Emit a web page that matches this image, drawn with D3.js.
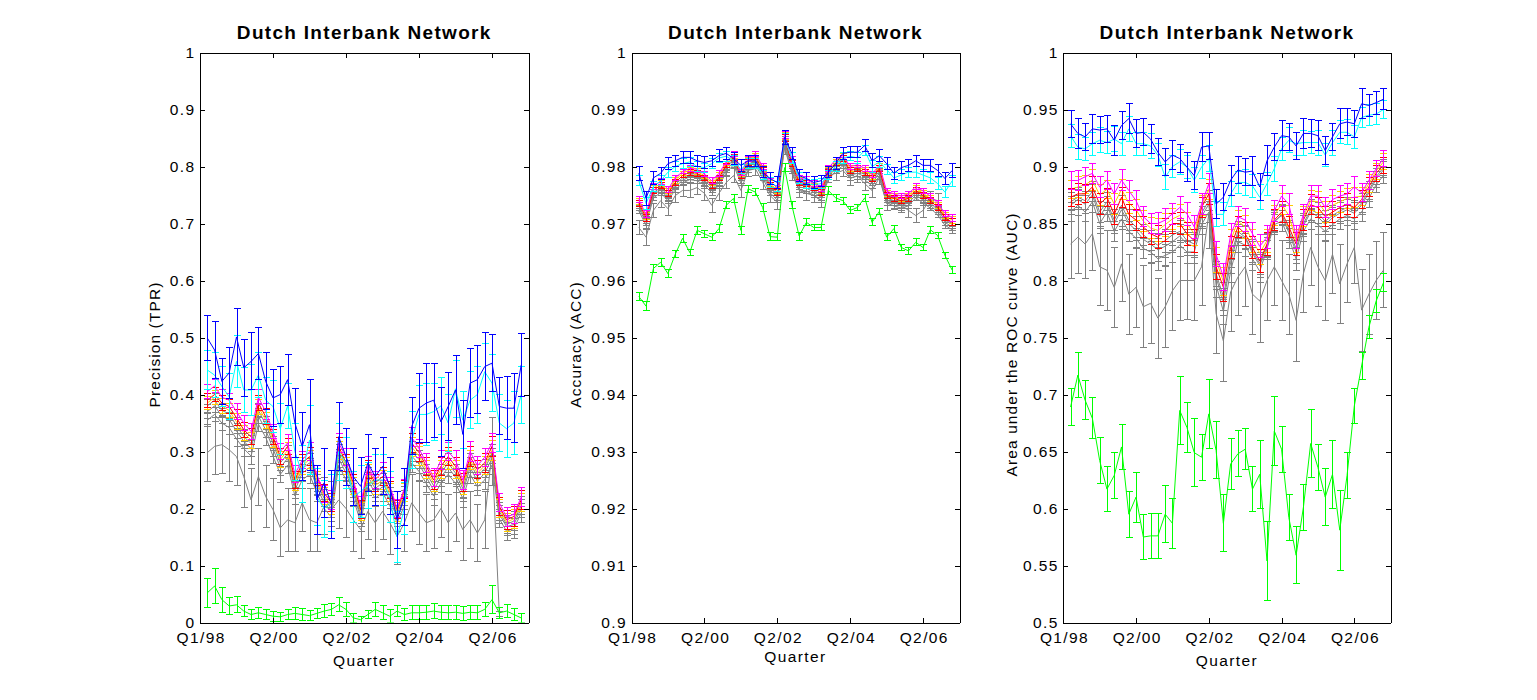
<!DOCTYPE html>
<html><head><meta charset="utf-8">
<script src="https://cdn.jsdelivr.net/npm/d3@7"></script>
<style>
body{margin:0;background:#fff}
svg{display:block}
text{font-family:Arial,"Liberation Sans",sans-serif;fill:#000}
</style></head><body>
<svg id="c" width="1537" height="700"></svg>
<script>
// ---------- shared axis data ----------
const xTickValues = [0, 10, 20, 30, 40];
const xTickLabels = ["Q1/98", "Q2/00", "Q2/02", "Q2/04", "Q2/06"];
const titleText = "Dutch Interbank Network";
const xLabelText = "Quarter";

// ---------- Panel 1 : Precision (TPR) ----------
const p1YTicks = [0,0.1,0.2,0.3,0.4,0.5,0.6,0.7,0.8,0.9,1];
const p1YTickLabels = ["0","0.1","0.2","0.3","0.4","0.5","0.6","0.7","0.8","0.9","1"];
const p1Blue = [0.499,0.478,0.423,0.438,0.501,0.447,0.458,0.472,0.423,0.394,0.400,0.426,0.350,0.309,0.347,0.215,0.245,0.207,0.326,0.291,0.256,0.239,0.280,0.256,0.274,0.239,0.180,0.221,0.344,0.376,0.385,0.390,0.352,0.379,0.408,0.330,0.420,0.426,0.449,0.455,0.379,0.376,0.376,0.452];
const p1Cyan = [0.443,0.434,0.414,0.396,0.458,0.408,0.408,0.434,0.390,0.379,0.340,0.380,0.300,0.260,0.320,0.220,0.200,0.210,0.300,0.280,0.220,0.230,0.240,0.250,0.250,0.220,0.150,0.200,0.320,0.365,0.365,0.370,0.380,0.350,0.410,0.355,0.390,0.400,0.440,0.420,0.350,0.340,0.350,0.400];
const p1Magenta = [0.405,0.415,0.395,0.390,0.370,0.350,0.335,0.395,0.370,0.335,0.300,0.315,0.260,0.285,0.300,0.260,0.225,0.215,0.315,0.290,0.250,0.205,0.275,0.250,0.265,0.240,0.200,0.235,0.325,0.305,0.280,0.255,0.285,0.300,0.285,0.250,0.300,0.275,0.290,0.315,0.210,0.185,0.190,0.220];
const p1Red = [0.390,0.400,0.385,0.379,0.359,0.338,0.326,0.385,0.361,0.326,0.291,0.309,0.250,0.280,0.291,0.256,0.227,0.210,0.309,0.280,0.245,0.198,0.268,0.245,0.256,0.233,0.198,0.233,0.315,0.298,0.274,0.250,0.274,0.291,0.274,0.245,0.291,0.268,0.280,0.309,0.204,0.180,0.186,0.215];
const p1Yellow = [0.385,0.395,0.380,0.372,0.352,0.333,0.320,0.378,0.355,0.320,0.286,0.302,0.246,0.275,0.286,0.250,0.222,0.205,0.302,0.275,0.240,0.195,0.262,0.240,0.250,0.228,0.194,0.228,0.308,0.292,0.268,0.245,0.268,0.285,0.268,0.240,0.285,0.262,0.275,0.302,0.200,0.176,0.182,0.210];
const p1Gray1 = [0.380,0.390,0.372,0.366,0.345,0.326,0.314,0.372,0.348,0.314,0.280,0.296,0.240,0.270,0.280,0.245,0.218,0.200,0.296,0.270,0.235,0.190,0.256,0.235,0.245,0.222,0.190,0.222,0.300,0.286,0.262,0.240,0.262,0.280,0.262,0.235,0.280,0.256,0.270,0.296,0.195,0.172,0.178,0.205];
const p1Gray2 = [0.370,0.380,0.362,0.356,0.336,0.318,0.305,0.362,0.338,0.305,0.272,0.288,0.232,0.262,0.272,0.238,0.210,0.194,0.288,0.262,0.228,0.184,0.248,0.228,0.238,0.215,0.184,0.215,0.292,0.278,0.255,0.232,0.255,0.272,0.255,0.228,0.272,0.248,0.262,0.288,0.190,0.168,0.172,0.200];
const p1Gray3 = [0.355,0.365,0.350,0.342,0.322,0.305,0.292,0.348,0.325,0.292,0.260,0.276,0.222,0.250,0.260,0.228,0.200,0.185,0.276,0.250,0.218,0.176,0.238,0.218,0.228,0.205,0.175,0.205,0.280,0.265,0.244,0.222,0.244,0.260,0.244,0.218,0.260,0.238,0.250,0.276,0.182,0.160,0.165,0.192];
const p1GrayLow = [0.298,0.309,0.312,0.303,0.291,0.256,0.215,0.256,0.221,0.198,0.166,0.180,0.175,0.210,0.180,0.175,0.204,0.198,0.215,0.200,0.180,0.163,0.195,0.175,0.195,0.175,0.151,0.175,0.210,0.192,0.175,0.180,0.200,0.175,0.192,0.163,0.180,0.157,0.180,0.300,0.015,null,null,null];
const p1Green = [0.052,0.064,0.040,0.029,0.031,0.020,0.014,0.017,0.014,0.011,0.010,0.014,0.016,0.014,0.012,0.016,0.020,0.023,0.031,0.023,0.008,0.005,0.014,0.023,0.017,0.011,0.020,0.014,0.017,0.017,0.018,0.020,0.018,0.017,0.018,0.016,0.018,0.017,0.023,0.040,0.017,0.020,0.014,0.008];
const p1BlueErr = [0.04,0.05,0.04,0.045,0.05,0.05,0.05,0.045,0.05,0.05,0.05,0.045,0.06,0.06,0.08,0.06,0.06,0.06,0.06,0.05,0.05,0.05,0.05,0.05,0.05,0.05,0.05,0.05,0.05,0.06,0.07,0.065,0.06,0.06,0.06,0.06,0.06,0.06,0.06,0.05,0.05,0.055,0.06,0.055];
const p1CyanErr = [0.035,0.04,0.035,0.04,0.045,0.04,0.045,0.04,0.04,0.045,0.045,0.04,0.05,0.05,0.06,0.05,0.05,0.05,0.05,0.045,0.045,0.045,0.04,0.045,0.045,0.045,0.045,0.045,0.05,0.05,0.055,0.05,0.05,0.05,0.05,0.05,0.05,0.05,0.05,0.05,0.05,0.05,0.055,0.05];
const p1ClusterErr = [0.012,0.012,0.013,0.012,0.014,0.013,0.014,0.013,0.014,0.013,0.014,0.014,0.015,0.015,0.016,0.015,0.015,0.016,0.016,0.015,0.015,0.016,0.016,0.015,0.016,0.015,0.016,0.016,0.017,0.016,0.016,0.016,0.016,0.016,0.016,0.016,0.017,0.016,0.016,0.017,0.016,0.016,0.017,0.016];
const p1LowErr = [0.05,0.05,0.05,0.055,0.05,0.055,0.055,0.05,0.055,0.055,0.05,0.055,0.05,0.05,0.055,0.05,0.05,0.05,0.05,0.05,0.055,0.05,0.05,0.05,0.05,0.055,0.05,0.05,0.05,0.055,0.05,0.05,0.05,0.05,0.05,0.055,0.05,0.05,0.05,0.06,0.005,0,0,0];
const p1GreenErr = [0.025,0.03,0.022,0.015,0.014,0.01,0.008,0.01,0.008,0.009,0.008,0.009,0.01,0.01,0.009,0.009,0.012,0.01,0.012,0.012,0.008,0.006,0.007,0.012,0.012,0.011,0.01,0.01,0.012,0.012,0.012,0.013,0.012,0.012,0.012,0.012,0.012,0.012,0.012,0.025,0.01,0.012,0.011,0.008];

// ---------- Panel 2 : Accuracy (ACC) ----------
const p2YTicks = [0.9,0.91,0.92,0.93,0.94,0.95,0.96,0.97,0.98,0.99,1];
const p2YTickLabels = ["0.9","0.91","0.92","0.93","0.94","0.95","0.96","0.97","0.98","0.99","1"];
const p2Blue = [0.9788,0.9744,0.978,0.9788,0.9805,0.981,0.9816,0.9816,0.981,0.9807,0.981,0.9819,0.9823,0.9814,0.9802,0.981,0.981,0.979,0.9779,0.9772,0.9851,0.9823,0.9784,0.9779,0.9772,0.9775,0.979,0.9805,0.9823,0.9825,0.9825,0.9837,0.981,0.9819,0.9805,0.9788,0.9798,0.9802,0.981,0.9802,0.9802,0.9793,0.9779,0.9793];
const p2Cyan = [0.9775,0.9735,0.9765,0.9775,0.979,0.980,0.9805,0.9808,0.980,0.9798,0.9805,0.9815,0.9818,0.981,0.9795,0.9805,0.9805,0.9785,0.9772,0.9765,0.9848,0.9815,0.978,0.977,0.9768,0.977,0.9785,0.980,0.9815,0.9818,0.9815,0.9828,0.980,0.9808,0.9795,0.978,0.9785,0.979,0.979,0.9785,0.978,0.977,0.9755,0.9775];
const p2Magenta = [0.9742,0.9716,0.9765,0.9774,0.976,0.978,0.9791,0.9797,0.9795,0.9787,0.9775,0.9788,0.9808,0.9822,0.979,0.9813,0.9822,0.98,0.9774,0.9762,0.9856,0.9812,0.978,0.9777,0.977,0.9762,0.9797,0.9812,0.982,0.98,0.9803,0.9797,0.9786,0.9803,0.9757,0.9752,0.9748,0.9752,0.9765,0.9757,0.9748,0.9736,0.9718,0.971];
const p2Red = [0.9735,0.971,0.9758,0.9767,0.9753,0.9772,0.9784,0.979,0.9788,0.978,0.9767,0.978,0.9802,0.9816,0.9784,0.9807,0.9816,0.9793,0.9767,0.9754,0.985,0.9805,0.9772,0.977,0.9763,0.9754,0.979,0.9805,0.9814,0.9793,0.9796,0.979,0.9779,0.9796,0.9749,0.9744,0.974,0.9744,0.9758,0.9749,0.974,0.9728,0.971,0.9702];
const p2Yellow = [0.9738,0.9713,0.9762,0.977,0.9757,0.9776,0.9788,0.9794,0.9791,0.9784,0.9771,0.9784,0.9805,0.9819,0.9787,0.981,0.9819,0.9797,0.977,0.9758,0.9853,0.9808,0.9776,0.9773,0.9766,0.9758,0.9794,0.9808,0.9817,0.9797,0.98,0.9794,0.9782,0.98,0.9753,0.9748,0.9744,0.9748,0.9762,0.9753,0.9744,0.9732,0.9714,0.9706];
const p2Gray1 = [0.9731,0.9706,0.9754,0.9763,0.9749,0.9768,0.978,0.9786,0.9784,0.9776,0.9763,0.9776,0.9798,0.9812,0.978,0.9803,0.9812,0.9789,0.9763,0.975,0.9846,0.9801,0.9768,0.9766,0.9759,0.975,0.9786,0.9801,0.981,0.9789,0.9792,0.9786,0.9775,0.9792,0.9745,0.974,0.9736,0.974,0.9754,0.9745,0.9736,0.9724,0.9706,0.9698];
const p2Gray2 = [0.9727,0.9702,0.975,0.9759,0.9745,0.9764,0.9776,0.9782,0.978,0.9772,0.9759,0.9772,0.9794,0.9808,0.9776,0.9799,0.9808,0.9785,0.9759,0.9746,0.9842,0.9797,0.9764,0.9762,0.9755,0.9746,0.9782,0.9797,0.9806,0.9785,0.9788,0.9782,0.9771,0.9788,0.9741,0.9736,0.9732,0.9736,0.975,0.9741,0.9732,0.972,0.9702,0.9694];
const p2Gray3 = [0.9722,0.9697,0.9745,0.9754,0.974,0.9759,0.9771,0.9777,0.9775,0.9767,0.9754,0.9767,0.9789,0.9803,0.9771,0.9794,0.9803,0.978,0.9754,0.9741,0.9837,0.9792,0.9759,0.9757,0.975,0.9741,0.9777,0.9792,0.9801,0.978,0.9783,0.9777,0.9766,0.9783,0.9736,0.9731,0.9727,0.9731,0.9745,0.9736,0.9727,0.9715,0.9697,0.9689];
const p2GrayLow = [0.9693,0.9676,0.9723,0.974,0.9726,0.9749,0.9758,0.9758,0.9763,0.9753,0.9732,0.9753,0.9772,0.9784,0.9758,0.9793,0.9796,0.9772,0.9749,0.9737,0.9833,0.9788,0.9758,0.9753,0.9749,0.974,0.9784,0.9788,0.9793,0.9779,0.9784,0.977,0.9758,0.978,0.9735,0.9737,0.9732,0.9723,0.9714,0.9723,0.9744,0.974,0.9708,0.970];
const p2Green = [0.9572,0.9555,0.9621,0.9632,0.9612,0.9646,0.9674,0.9649,0.9688,0.9682,0.9676,0.9691,0.9732,0.9744,0.9688,0.9761,0.9755,0.9728,0.9677,0.9676,0.9798,0.9732,0.9678,0.9702,0.9693,0.9693,0.9758,0.9745,0.974,0.9723,0.9728,0.9745,0.9702,0.9721,0.9676,0.9691,0.9658,0.9652,0.9667,0.9658,0.9689,0.9679,0.9644,0.9618];
const p2BlueErr = [0.0012,0.0012,0.0011,0.0011,0.0011,0.001,0.001,0.001,0.001,0.001,0.001,0.001,0.001,0.001,0.001,0.001,0.001,0.001,0.001,0.001,0.0012,0.001,0.001,0.001,0.001,0.001,0.001,0.001,0.001,0.001,0.001,0.001,0.0012,0.001,0.001,0.001,0.001,0.001,0.001,0.001,0.001,0.001,0.0011,0.0012];
const p2CyanErr = [0.0009,0.001,0.0009,0.0009,0.0009,0.0008,0.0009,0.0008,0.0009,0.0008,0.0009,0.0008,0.0009,0.0009,0.0008,0.0009,0.0009,0.0008,0.0009,0.0009,0.001,0.0009,0.0009,0.0008,0.0009,0.0009,0.0008,0.0009,0.0009,0.0008,0.0009,0.0009,0.001,0.0009,0.0009,0.0009,0.0009,0.0009,0.001,0.0009,0.0009,0.001,0.001,0.001];
const p2ClusterErr = [0.0005,0.0006,0.0005,0.0005,0.0005,0.0005,0.0004,0.0005,0.0005,0.0005,0.0005,0.0005,0.0004,0.0005,0.0005,0.0005,0.0004,0.0005,0.0005,0.0005,0.0006,0.0005,0.0005,0.0005,0.0005,0.0005,0.0005,0.0004,0.0005,0.0005,0.0005,0.0005,0.0005,0.0005,0.0005,0.0005,0.0005,0.0005,0.0005,0.0005,0.0005,0.0005,0.0005,0.0006];
const p2LowErr = [0.0013,0.0014,0.0012,0.0012,0.0012,0.0012,0.0011,0.0012,0.0012,0.0012,0.0012,0.0012,0.0011,0.0012,0.0012,0.0011,0.0012,0.0012,0.0012,0.0012,0.0012,0.0012,0.0012,0.0012,0.0012,0.0012,0.0012,0.0012,0.0011,0.0012,0.0012,0.0012,0.0012,0.0012,0.0012,0.0012,0.0012,0.0012,0.0012,0.0012,0.0012,0.0012,0.0012,0.0012];
const p2GreenErr = [0.0007,0.0008,0.0007,0.0007,0.0007,0.0006,0.0007,0.0006,0.0007,0.0006,0.0006,0.0007,0.0006,0.0007,0.0007,0.0006,0.0006,0.0007,0.0007,0.0006,0.0007,0.0006,0.0007,0.0006,0.0006,0.0006,0.0007,0.0006,0.0006,0.0006,0.0006,0.0006,0.0006,0.0006,0.0006,0.0006,0.0006,0.0006,0.0006,0.0006,0.0006,0.0006,0.0006,0.0006];

// ---------- Panel 3 : AUC ----------
const p3YTicks = [0.5,0.55,0.6,0.65,0.7,0.75,0.8,0.85,0.9,0.95,1];
const p3YTickLabels = ["0.5","0.55","0.6","0.65","0.7","0.75","0.8","0.85","0.9","0.95","1"];
const p3Blue = [0.9375,0.929,0.926,0.933,0.932,0.933,0.923,0.936,0.942,0.929,0.930,0.924,0.9125,0.904,0.910,0.907,0.8995,0.892,0.917,0.918,0.867,0.873,0.888,0.897,0.895,0.896,0.882,0.905,0.917,0.927,0.926,0.918,0.929,0.929,0.927,0.914,0.926,0.9375,0.939,0.9375,0.955,0.9535,0.956,0.959];
const p3Cyan = [0.927,0.917,0.9155,0.920,0.923,0.921,0.924,0.920,0.933,0.920,0.920,0.918,0.910,0.8905,0.900,0.904,0.8995,0.888,0.8995,0.907,0.858,0.858,0.876,0.886,0.886,0.883,0.873,0.885,0.898,0.9155,0.923,0.920,0.921,0.921,0.921,0.910,0.921,0.930,0.930,0.926,0.943,0.945,0.946,0.950];
const p3Magenta = [0.8877,0.8877,0.891,0.894,0.882,0.888,0.876,0.888,0.879,0.870,0.856,0.850,0.850,0.853,0.8585,0.864,0.8585,0.847,0.867,0.885,0.823,0.803,0.840,0.856,0.853,0.841,0.830,0.838,0.861,0.874,0.867,0.838,0.858,0.874,0.874,0.864,0.871,0.874,0.876,0.882,0.877,0.888,0.898,0.907];
const p3Red = [0.873,0.876,0.876,0.882,0.867,0.873,0.858,0.873,0.858,0.853,0.847,0.841,0.838,0.844,0.850,0.850,0.841,0.835,0.864,0.876,0.812,0.794,0.829,0.847,0.841,0.829,0.817,0.832,0.853,0.860,0.847,0.832,0.853,0.8665,0.864,0.856,0.860,0.864,0.867,0.864,0.871,0.882,0.894,0.901];
const p3Yellow = [0.880,0.882,0.884,0.888,0.875,0.880,0.867,0.880,0.868,0.862,0.852,0.846,0.844,0.849,0.854,0.857,0.850,0.841,0.866,0.880,0.818,0.799,0.835,0.852,0.847,0.835,0.824,0.835,0.857,0.867,0.857,0.835,0.856,0.870,0.869,0.860,0.866,0.869,0.872,0.873,0.874,0.885,0.896,0.904];
const p3Gray1 = [0.869,0.873,0.870,0.878,0.860,0.869,0.853,0.866,0.853,0.847,0.840,0.835,0.831,0.835,0.840,0.843,0.835,0.832,0.859,0.870,0.806,0.786,0.821,0.843,0.838,0.826,0.815,0.830,0.851,0.858,0.844,0.828,0.850,0.862,0.859,0.852,0.857,0.861,0.864,0.861,0.868,0.879,0.891,0.899];
const p3Gray2 = [0.866,0.871,0.867,0.875,0.856,0.866,0.850,0.862,0.850,0.844,0.836,0.832,0.827,0.830,0.834,0.839,0.832,0.830,0.856,0.867,0.803,0.781,0.816,0.840,0.837,0.824,0.813,0.831,0.852,0.857,0.842,0.825,0.848,0.860,0.856,0.849,0.855,0.859,0.862,0.859,0.866,0.877,0.889,0.897];
const p3Gray3 = [0.860,0.866,0.860,0.869,0.850,0.860,0.843,0.854,0.843,0.837,0.828,0.825,0.819,0.822,0.825,0.831,0.825,0.825,0.849,0.860,0.796,0.773,0.808,0.834,0.831,0.819,0.808,0.828,0.849,0.852,0.837,0.819,0.843,0.854,0.849,0.843,0.849,0.854,0.857,0.854,0.860,0.872,0.884,0.892];
const p3GrayLow = [0.832,0.838,0.832,0.841,0.812,0.809,0.794,0.8146,0.788,0.794,0.777,0.780,0.767,0.777,0.791,0.800,0.800,0.800,0.812,0.8585,0.771,0.747,0.790,0.803,0.812,0.788,0.782,0.800,0.812,0.800,0.788,0.765,0.806,0.829,0.812,0.800,0.823,0.797,0.8146,0.829,0.774,0.788,0.800,0.809];
const p3Green = [0.689,0.717,0.695,0.679,0.642,0.617,0.629,0.654,0.595,0.610,0.575,0.576,0.576,0.595,0.587,0.686,0.671,0.649,0.645,0.683,0.651,0.587,0.639,0.648,0.652,0.617,0.630,0.554,0.668,0.652,0.592,0.559,0.601,0.657,0.636,0.610,0.630,0.581,0.629,0.690,0.725,0.759,0.782,0.798];
const p3BlueErr = [0.012,0.013,0.012,0.013,0.012,0.012,0.013,0.012,0.013,0.012,0.012,0.013,0.012,0.012,0.013,0.012,0.013,0.012,0.013,0.012,0.013,0.012,0.013,0.012,0.012,0.013,0.012,0.013,0.012,0.013,0.012,0.012,0.013,0.012,0.013,0.012,0.012,0.013,0.012,0.012,0.013,0.01,0.01,0.009];
const p3CyanErr = [0.01,0.011,0.01,0.01,0.011,0.01,0.011,0.01,0.011,0.01,0.01,0.011,0.01,0.011,0.01,0.011,0.01,0.011,0.01,0.011,0.011,0.01,0.011,0.01,0.011,0.01,0.011,0.01,0.011,0.01,0.011,0.01,0.011,0.01,0.011,0.01,0.011,0.01,0.011,0.01,0.009,0.009,0.009,0.008];
const p3ClusterErr = [0.008,0.009,0.008,0.009,0.009,0.008,0.009,0.009,0.009,0.009,0.009,0.009,0.01,0.01,0.009,0.01,0.01,0.01,0.009,0.009,0.011,0.012,0.01,0.009,0.01,0.01,0.01,0.01,0.009,0.009,0.009,0.01,0.009,0.009,0.009,0.009,0.009,0.009,0.009,0.009,0.008,0.008,0.007,0.007];
const p3LowErr = [0.03,0.032,0.03,0.032,0.034,0.035,0.035,0.033,0.035,0.035,0.036,0.035,0.035,0.036,0.035,0.035,0.034,0.035,0.034,0.03,0.035,0.036,0.035,0.034,0.035,0.035,0.036,0.035,0.034,0.035,0.035,0.036,0.034,0.033,0.035,0.035,0.034,0.035,0.034,0.032,0.036,0.035,0.034,0.033];
const p3GreenErr = [0.016,0.02,0.017,0.018,0.02,0.02,0.02,0.02,0.02,0.022,0.02,0.02,0.02,0.025,0.022,0.03,0.022,0.03,0.02,0.03,0.025,0.025,0.022,0.02,0.018,0.02,0.03,0.035,0.03,0.02,0.02,0.025,0.02,0.03,0.02,0.025,0.03,0.035,0.02,0.015,0.012,0.01,0.01,0.008];

// ---------- colours ----------
const C = {blue:"#0000ff", cyan:"#00ffff", magenta:"#ff00ff", red:"#ff0000", yellow:"#ffcc00", gray:"#808080", green:"#00ff00"};

function mk(low,g3,g2,g1,yel,red,mag,cyan,blue,green,eLow,eCl,eCy,eBl,eGr){
  return [
    {v:low,e:eLow,c:C.gray},{v:g3,e:eCl,c:C.gray},{v:g2,e:eCl,c:C.gray},{v:g1,e:eCl,c:C.gray},
    {v:yel,e:eCl,c:C.yellow},{v:red,e:eCl,c:C.red},{v:mag,e:eCl,c:C.magenta},
    {v:cyan,e:eCy,c:C.cyan},{v:blue,e:eBl,c:C.blue},{v:green,e:eGr,c:C.green}
  ];
}

const panels = [
  {left:200, right:528.5, ylab:"Precision (TPR)", ylabX:160, xlabY:666, dom:[0,1], ticks:p1YTicks, tl:p1YTickLabels,
   series: mk(p1GrayLow,p1Gray3,p1Gray2,p1Gray1,p1Yellow,p1Red,p1Magenta,p1Cyan,p1Blue,p1Green,p1LowErr,p1ClusterErr,p1CyanErr,p1BlueErr,p1GreenErr)},
  {left:631.5, right:959.5, ylab:"Accuracy (ACC)", ylabX:581, xlabY:662, dom:[0.9,1], ticks:p2YTicks, tl:p2YTickLabels,
   series: mk(p2GrayLow,p2Gray3,p2Gray2,p2Gray1,p2Yellow,p2Red,p2Magenta,p2Cyan,p2Blue,p2Green,p2LowErr,p2ClusterErr,p2CyanErr,p2BlueErr,p2GreenErr)},
  {left:1063.3, right:1390.7, ylab:"Area under the ROC curve (AUC)", ylabX:1017, xlabY:666, dom:[0.5,1], ticks:p3YTicks, tl:p3YTickLabels,
   series: mk(p3GrayLow,p3Gray3,p3Gray2,p3Gray1,p3Yellow,p3Red,p3Magenta,p3Cyan,p3Blue,p3Green,p3LowErr,p3ClusterErr,p3CyanErr,p3BlueErr,p3GreenErr)}
];

const svg = d3.select("#c");
const TOP = 52.5, BOT = 622.5, CAP = 3.5;
const tickFont = {size:"15.5px", ls:"1.4px"};

panels.forEach((p, pi) => {
  const x = d3.scaleLinear().domain([0,45]).range([p.left, p.right]);
  const y = d3.scaleLinear().domain(p.dom).range([BOT, TOP]);
  const clipId = "clip" + pi;
  svg.append("clipPath").attr("id", clipId).append("rect")
    .attr("x", p.left).attr("y", TOP).attr("width", p.right - p.left).attr("height", BOT - TOP);
  const g = svg.append("g").attr("clip-path", `url(#${clipId})`);

  p.series.forEach(s => {
    const line = d3.line().defined(d => d != null).x((d,i) => x(i+1)).y(d => y(d));
    g.append("path").attr("d", line(s.v)).attr("fill","none")
      .attr("stroke", s.c).attr("stroke-width", 1);
    const eb = g.append("g").attr("stroke", s.c).attr("stroke-width", 1).attr("shape-rendering","crispEdges");
    s.v.forEach((v,i) => {
      if (v == null || !s.e[i]) return;
      const cx = Math.round(x(i+1)) + 0.5;
      const y1 = y(v + s.e[i]), y2 = y(v - s.e[i]);
      eb.append("line").attr("x1",cx).attr("x2",cx).attr("y1",y1).attr("y2",y2);
      eb.append("line").attr("x1",cx-CAP).attr("x2",cx+CAP).attr("y1",y1).attr("y2",y1);
      eb.append("line").attr("x1",cx-CAP).attr("x2",cx+CAP).attr("y1",y2).attr("y2",y2);
    });
  });

  // axes (box with inward ticks)
  const ax = svg.append("g").attr("shape-rendering","crispEdges");
  const bottom = d3.axisBottom(x).tickValues(xTickValues).tickFormat((d,i)=>xTickLabels[i]).tickSizeInner(-5).tickSizeOuter(0).tickPadding(9);
  const top = d3.axisTop(x).tickValues(xTickValues).tickFormat("").tickSizeInner(-5).tickSizeOuter(0);
  const left = d3.axisLeft(y).tickValues(p.ticks).tickFormat((d,i)=>p.tl[i]).tickSizeInner(-5).tickSizeOuter(0).tickPadding(6);
  const right = d3.axisRight(y).tickValues(p.ticks).tickFormat("").tickSizeInner(-5).tickSizeOuter(0);

  const gb = ax.append("g").attr("transform",`translate(0,${BOT})`).call(bottom);
  ax.append("g").attr("transform",`translate(0,${TOP})`).call(top);
  const gl = ax.append("g").attr("transform",`translate(${p.left},0)`).call(left);
  ax.append("g").attr("transform",`translate(${p.right},0)`).call(right);
  ax.selectAll("path.domain").attr("stroke","#000");
  ax.selectAll(".tick line").attr("stroke","#000");
  ax.selectAll("text").attr("font-family","Arial, 'Liberation Sans', sans-serif")
    .attr("font-size",tickFont.size).style("letter-spacing",tickFont.ls).attr("fill","#000");
  gb.selectAll("text").attr("dy","0.71em").attr("dx","0.7px");
  gl.selectAll("text").attr("dx","1.4px");

  // title
  svg.append("text").attr("x",(p.left+p.right)/2).attr("y",38.5).attr("text-anchor","middle")
    .attr("font-size","19px").attr("font-weight","bold").style("letter-spacing","1.3px").text(titleText);
  // x label
  svg.append("text").attr("x",(p.left+p.right)/2).attr("y",p.xlabY).attr("text-anchor","middle")
    .attr("font-size","15.5px").style("letter-spacing","1.4px").text(xLabelText);
  // y label
  svg.append("text").attr("transform",`translate(${p.ylabX},${(TOP+BOT)/2 + 7}) rotate(-90)`)
    .attr("text-anchor","middle").attr("font-size","15.5px").style("letter-spacing","1.1px").text(p.ylab);
});
</script>
</body></html>
